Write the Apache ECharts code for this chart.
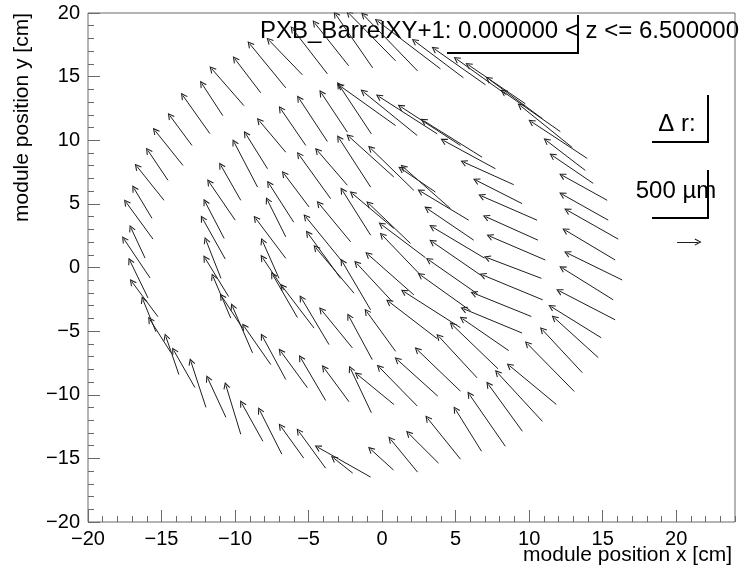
<!DOCTYPE html>
<html>
<head>
<meta charset="utf-8">
<script src="https://cdn.jsdelivr.net/npm/echarts@6/dist/echarts.min.js"></script>
<style>
  html, body { margin: 0; padding: 0; background: #ffffff; }
  #chart { width: 751px; height: 573px; }
</style>
</head>
<body>
<div id="chart"></div>
<script>
// Pixel barrel, 0 < z <= 6.5 cm: module positions (arrow tails) and
// magnified displaced positions (arrow heads), in cm, one pair of lists per layer.
const layer1Tail = [[-2.70,0.45],[-2.14,2.02],[-0.78,2.54],[0.80,3.07],[1.93,1.89],[2.95,0.77],[2.61,-0.59],[2.16,-2.15],[0.69,-2.68],[-0.78,-3.33],[-1.91,-2.02],[-2.82,-0.85]];
const layer1Head = [[-5.19,3.98],[-4.29,5.02],[-2.70,6.06],[-2.02,5.81],[-0.90,5.02],[-0.05,3.38],[0.01,2.54],[-0.96,1.03],[-1.73,0.33],[-2.70,0.45],[-4.51,1.55],[-5.04,2.68]];

const layer2Tail = [[-3.50,5.41],[-2.36,6.46],[-0.78,6.32],[0.80,7.11],[2.16,6.06],[3.63,5.93],[4.65,4.63],[5.89,3.72],[6.23,2.15],[6.96,0.74],[6.69,-0.59],[6.48,-2.07],[6.01,-3.40],[5.33,-4.73],[3.75,-5.60],[0.92,-6.59],[-0.67,-7.24],[-2.02,-6.32],[-3.61,-6.06],[-4.63,-4.76],[-5.76,-3.93],[-6.67,-1.76],[-7.01,-0.85],[-6.55,0.72],[-6.55,2.41],[-6.01,3.56],[-4.97,4.76]];
const layer2Head = [[-5.65,8.86],[-4.40,9.19],[-2.93,10.16],[-2.25,10.29],[-0.78,9.37],[1.30,7.76],[1.44,7.89],[2.61,5.99],[3.07,4.63],[3.41,3.19],[3.41,2.02],[3.18,0.59],[2.61,-0.59],[1.48,-1.89],[0.46,-2.68],[-1.05,-3.46],[-2.25,-3.85],[-4.13,-3.33],[-5.49,-2.41],[-6.78,-1.50],[-7.43,-0.59],[-8.13,0.77],[-8.13,2.07],[-8.59,3.85],[-7.79,5.28],[-7.69,6.59],[-6.67,7.37]];

const layer3Tail = [[8.95,6.51],[9.52,5.02],[10.54,3.72],[10.60,2.15],[11.10,0.59],[10.83,-0.85],[10.92,-2.54],[10.15,-3.85],[9.52,-5.15],[8.61,-6.53],[7.89,-7.97],[6.46,-8.67],[5.33,-9.72],[3.79,-10.11],[2.39,-10.89],[0.80,-10.76],[-0.73,-11.41],[-2.25,-10.55],[-3.84,-10.45],[-5.08,-9.45],[-6.55,-8.80],[-7.57,-7.63],[-8.81,-6.71],[-9.49,-4.76],[-10.29,-3.98],[-10.44,-2.28],[-10.96,-0.85],[-10.67,0.67],[-10.74,2.28],[-9.99,3.72],[-9.61,5.28],[-8.47,6.32],[-7.79,7.76],[-6.55,9.06],[-5.19,9.59],[-3.72,9.90],[-2.36,10.63],[-0.73,10.50],[0.92,11.15],[2.39,10.37],[3.75,10.50],[5.33,9.59],[6.80,8.67],[7.71,7.76]];
const layer3Head = [[5.55,8.28],[6.40,6.85],[6.76,5.62],[7.07,3.98],[7.32,2.46],[7.14,0.77],[6.84,-0.59],[6.23,-2.02],[5.55,-3.25],[5.47,-4.03],[4.77,-4.50],[3.86,-5.42],[2.39,-6.46],[1.03,-7.24],[-0.19,-7.84],[-1.68,-8.41],[-2.14,-7.97],[-3.95,-7.89],[-5.53,-7.11],[-6.89,-6.59],[-8.13,-5.42],[-9.38,-4.63],[-10.17,-3.07],[-10.90,-2.28],[-11.49,-0.72],[-12.03,0.72],[-11.98,2.15],[-12.21,3.85],[-12.03,5.15],[-11.76,6.71],[-10.96,8.02],[-10.06,9.84],[-9.27,10.50],[-8.36,11.54],[-6.89,12.46],[-5.65,13.29],[-4.13,13.71],[-2.93,14.34],[-2.87,14.28],[-1.28,13.81],[-0.22,13.44],[1.26,12.64],[2.82,11.54],[4.18,9.98]];

const layer4Tail = [[-3.72,15.22],[-5.42,15.14],[-6.55,14.12],[-8.25,13.73],[-9.40,12.72],[-10.83,11.93],[-11.71,10.52],[-12.93,9.59],[-13.54,8.02],[-14.56,6.85],[-14.83,5.28],[-15.65,3.87],[-15.58,2.23],[-16.12,0.74],[-15.78,-0.82],[-15.92,-2.39],[-15.24,-3.87],[-15.38,-5.05],[-14.36,-6.69],[-13.82,-8.41],[-12.73,-9.43],[-11.98,-10.99],[-10.62,-11.78],[-9.61,-13.11],[-8.11,-13.65],[-6.82,-14.67],[-5.33,-14.98],[-3.84,-15.77],[-2.00,-16.16],[-0.78,-16.47],[0.78,-15.92],[2.41,-16.08],[3.84,-15.38],[5.33,-15.06],[6.76,-14.44],[8.38,-14.05],[9.54,-12.87],[10.90,-12.09],[11.85,-10.76],[13.07,-9.74],[13.61,-8.26],[14.70,-7.08],[14.90,-5.52],[15.85,-4.11],[15.72,-2.54],[16.33,-0.98],[15.85,0.59],[16.06,2.23],[15.38,3.72],[15.31,5.28],[14.36,6.61],[13.82,7.63],[13.95,8.57],[12.93,9.43],[12.12,10.68],[10.90,11.70],[9.74,12.87],[8.45,13.58],[7.03,14.36],[5.53,14.91],[3.97,15.61],[2.41,15.45],[0.92,16.24],[-0.64,15.69],[-2.27,15.85]];
const layer4Head = [[-6.08,18.74],[-7.69,17.86],[-9.00,17.57],[-10.01,16.39],[-11.58,15.61],[-12.25,14.44],[-13.54,13.50],[-14.43,11.93],[-15.44,10.76],[-15.92,9.19],[-16.67,7.94],[-16.87,6.22],[-17.41,5.13],[-17.07,3.09],[-17.55,2.23],[-17.14,0.51],[-17.01,-1.13],[-16.26,-2.54],[-15.78,-4.11],[-14.70,-5.44],[-14.16,-6.53],[-13.00,-7.39],[-11.85,-8.72],[-10.62,-9.27],[-9.54,-10.68],[-8.32,-11.23],[-6.89,-12.48],[-5.67,-12.87],[-3.29,-14.98],[-4.38,-14.12],[-0.78,-14.28],[0.58,-13.50],[1.80,-13.03],[3.09,-11.85],[4.99,-11.15],[5.94,-9.98],[7.23,-9.19],[7.84,-8.26],[8.66,-7.71],[9.88,-5.99],[10.90,-4.89],[11.71,-3.95],[11.51,-3.09],[12.05,-1.84],[12.25,-0.04],[12.59,1.13],[12.46,2.93],[12.59,4.50],[12.25,5.75],[12.25,7.24],[11.58,8.80],[11.17,9.98],[10.15,11.46],[9.40,12.72],[8.25,13.81],[7.23,14.83],[5.87,15.92],[5.06,16.39],[3.56,17.18],[2.21,17.80],[-0.31,19.37],[-1.26,19.84],[-2.27,19.99],[-3.16,19.90],[-4.58,19.21]];

// Reference arrow for the 500 um scale
const scaleArrow = [[20.06, 2.0], [21.49, 2.0]];

// Axis ticks
const xMajorTicks = [-20, -15, -10, -5, 0, 5, 10, 15, 20];
const yMajorTicks = [-20, -15, -10, -5, 0, 5, 10, 15, 20];

const FONT = '"Liberation Sans", Arial, Helvetica, sans-serif';
const FRAME = '#6a6a6a';
const INK = '#1e1e1e';

function unitSteps(lo, hi) {
  const out = [];
  for (let v = lo; v <= hi; v++) out.push(v);
  return out;
}
const xMinorTicks = unitSteps(-20, 24);
const yMinorTicks = unitSteps(-20, 20);

function toSegments(tails, heads) {
  return tails.map((t, i) => ({ coords: [t, heads[i]] }));
}
const arrows = [].concat(
  toSegments(layer1Tail, layer1Head),
  toSegments(layer2Tail, layer2Head),
  toSegments(layer3Tail, layer3Head),
  toSegments(layer4Tail, layer4Head),
  [{ coords: scaleArrow }]
);

const minusSign = v => String(v).replace('-', '\u2212');

// Open "V" arrow head, tip pointing up in symbol space
const OPEN_HEAD = 'path://M5,0 L10,9 L8.7,9.7 L5,3.2 L1.3,9.7 L0,9 Z';

const chart = echarts.init(document.getElementById('chart'), null, { renderer: 'canvas' });

const tickStyle = (len, values) => ({
  show: true, inside: true, length: len, customValues: values,
  lineStyle: { color: FRAME, width: 1 }
});
const hiddenLine = { show: false, onZero: false };

chart.setOption({
  animation: false,
  backgroundColor: '#ffffff',
  grid: {
    left: 88, right: 16, top: 13, bottom: 51,
    show: true, borderColor: FRAME, borderWidth: 1, backgroundColor: 'transparent'
  },
  xAxis: [
    {
      type: 'value', min: -20, max: 24, interval: 5, position: 'bottom',
      axisLine: hiddenLine, splitLine: { show: false },
      axisTick: tickStyle(12, xMajorTicks),
      axisLabel: {
        customValues: xMajorTicks, formatter: minusSign, margin: 7,
        color: '#000', fontSize: 20, fontFamily: FONT
      }
    },
    {
      type: 'value', min: -20, max: 24, position: 'bottom',
      axisLine: hiddenLine, splitLine: { show: false }, axisLabel: { show: false },
      axisTick: tickStyle(6, xMinorTicks)
    }
  ],
  yAxis: [
    {
      type: 'value', min: -20, max: 20, interval: 5, position: 'left',
      axisLine: hiddenLine, splitLine: { show: false },
      axisTick: tickStyle(12, yMajorTicks),
      axisLabel: {
        customValues: yMajorTicks, formatter: minusSign, margin: 8,
        color: '#000', fontSize: 20, fontFamily: FONT
      }
    },
    {
      type: 'value', min: -20, max: 20, position: 'left',
      axisLine: hiddenLine, splitLine: { show: false }, axisLabel: { show: false },
      axisTick: tickStyle(6, yMinorTicks)
    }
  ],
  series: [{
    type: 'lines',
    coordinateSystem: 'cartesian2d',
    xAxisIndex: 0, yAxisIndex: 0,
    silent: true,
    symbol: ['none', OPEN_HEAD],
    symbolSize: 7,
    lineStyle: { color: INK, width: 1, opacity: 1, curveness: 0 },
    data: arrows
  }],
  graphic: [
    // title pave
    { type: 'text', x: 260, y: 31, style: { text: 'PXB_BarrelXY+1: 0.000000 < z <= 6.500000', font: '24px ' + FONT, fill: '#000', verticalAlign: 'middle', align: 'left' } },
    { type: 'line', shape: { x1: 578, y1: 15, x2: 578, y2: 53 }, style: { stroke: '#000', lineWidth: 2 } },
    { type: 'line', shape: { x1: 447, y1: 53, x2: 579, y2: 53 }, style: { stroke: '#000', lineWidth: 2 } },
    // delta-r pave
    { type: 'text', x: 677, y: 124, style: { text: '\u0394 r:', font: '24px ' + FONT, fill: '#000', verticalAlign: 'middle', align: 'center' } },
    { type: 'line', shape: { x1: 708, y1: 95, x2: 708, y2: 142 }, style: { stroke: '#000', lineWidth: 2 } },
    { type: 'line', shape: { x1: 652, y1: 142, x2: 709, y2: 142 }, style: { stroke: '#000', lineWidth: 2 } },
    // scale pave
    { type: 'text', x: 676, y: 191, style: { text: '500 \u00b5m', font: '24px ' + FONT, fill: '#000', verticalAlign: 'middle', align: 'center' } },
    { type: 'line', shape: { x1: 708, y1: 170, x2: 708, y2: 218 }, style: { stroke: '#000', lineWidth: 2 } },
    { type: 'line', shape: { x1: 652, y1: 218, x2: 709, y2: 218 }, style: { stroke: '#000', lineWidth: 2 } },
    // axis titles
    { type: 'text', x: 732, y: 555, style: { text: 'module position x [cm]', font: '21px ' + FONT, fill: '#000', verticalAlign: 'middle', align: 'right' } },
    { type: 'text', x: 22, y: 13, rotation: Math.PI / 2, style: { text: 'module position y [cm]', font: '21px ' + FONT, fill: '#000', verticalAlign: 'middle', align: 'right' } }
  ]
});
</script>
</body>
</html>
